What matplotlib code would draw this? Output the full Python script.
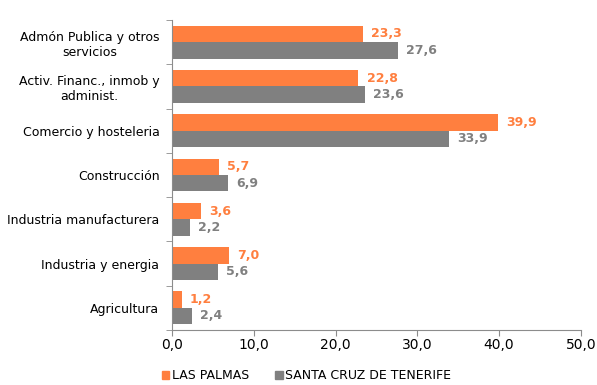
import numpy as np
import matplotlib.pyplot as plt
from matplotlib.patches import Patch

categories = ['Admón Publica y otros\nservicios', 'Activ. Financ., inmob y\nadminist.',
              'Comercio y hosteleria', 'Construcción', 'Industria manufacturera',
              'Industria y energia', 'Agricultura']
las_palmas = [23.3, 22.8, 39.9, 5.7, 3.6, 7.0, 1.2]
tenerife = [27.6, 23.6, 33.9, 6.9, 2.2, 5.6, 2.4]
series_names = ['LAS PALMAS', 'SANTA CRUZ DE TENERIFE']

orange = '#FF7F3F'
grey = '#808080'
axis_col = '#8C8C8C'

fig = plt.figure(figsize=(5.97, 3.85), dpi=100)
ax = fig.add_axes([0.288, 0.143, 0.685, 0.805])

barH = 0.37
pos = np.arange(len(categories))
ax.barh(pos - barH / 2, las_palmas, height=barH, color=orange)
ax.barh(pos + barH / 2, tenerife, height=barH, color=grey)

def fmt(v):
    return f'{v:.1f}'.replace('.', ',')

for p, v in zip(pos, las_palmas):
    ax.text(v + 1.0, p - barH / 2, fmt(v), va='center', ha='left',
            color=orange, fontweight='bold', fontsize=9)
for p, v in zip(pos, tenerife):
    ax.text(v + 1.0, p + barH / 2, fmt(v), va='center', ha='left',
            color=grey, fontweight='bold', fontsize=9)

ax.set_ylim(len(categories) - 0.5, -0.5)
ax.set_xlim(0, 50)

# category labels centred between boundary ticks
ax.set_yticks(pos)
ax.set_yticklabels(categories, fontsize=9, multialignment='center')
ax.tick_params(axis='y', length=0, pad=9)
ax.set_yticks(np.arange(-0.5, len(categories)), minor=True)
ax.tick_params(axis='y', which='minor', length=4, color=axis_col, direction='out')

ax.set_xticks(np.arange(0, 51, 10))
ax.set_xticklabels([fmt(x) for x in np.arange(0, 51, 10)], fontsize=10)
ax.tick_params(axis='x', length=4, color=axis_col, pad=2)

for s in ['top', 'right']:
    ax.spines[s].set_visible(False)
for s in ['left', 'bottom']:
    ax.spines[s].set_color(axis_col)

handles = [Patch(color=orange), Patch(color=grey)]
fig.legend(handles, series_names, loc='lower left', bbox_to_anchor=(0.252, -0.022),
           ncol=2, frameon=False, fontsize=9, handlelength=0.6, handleheight=0.6,
           handletextpad=0.2, columnspacing=2.1)

fig.savefig('out.png', dpi=100)
